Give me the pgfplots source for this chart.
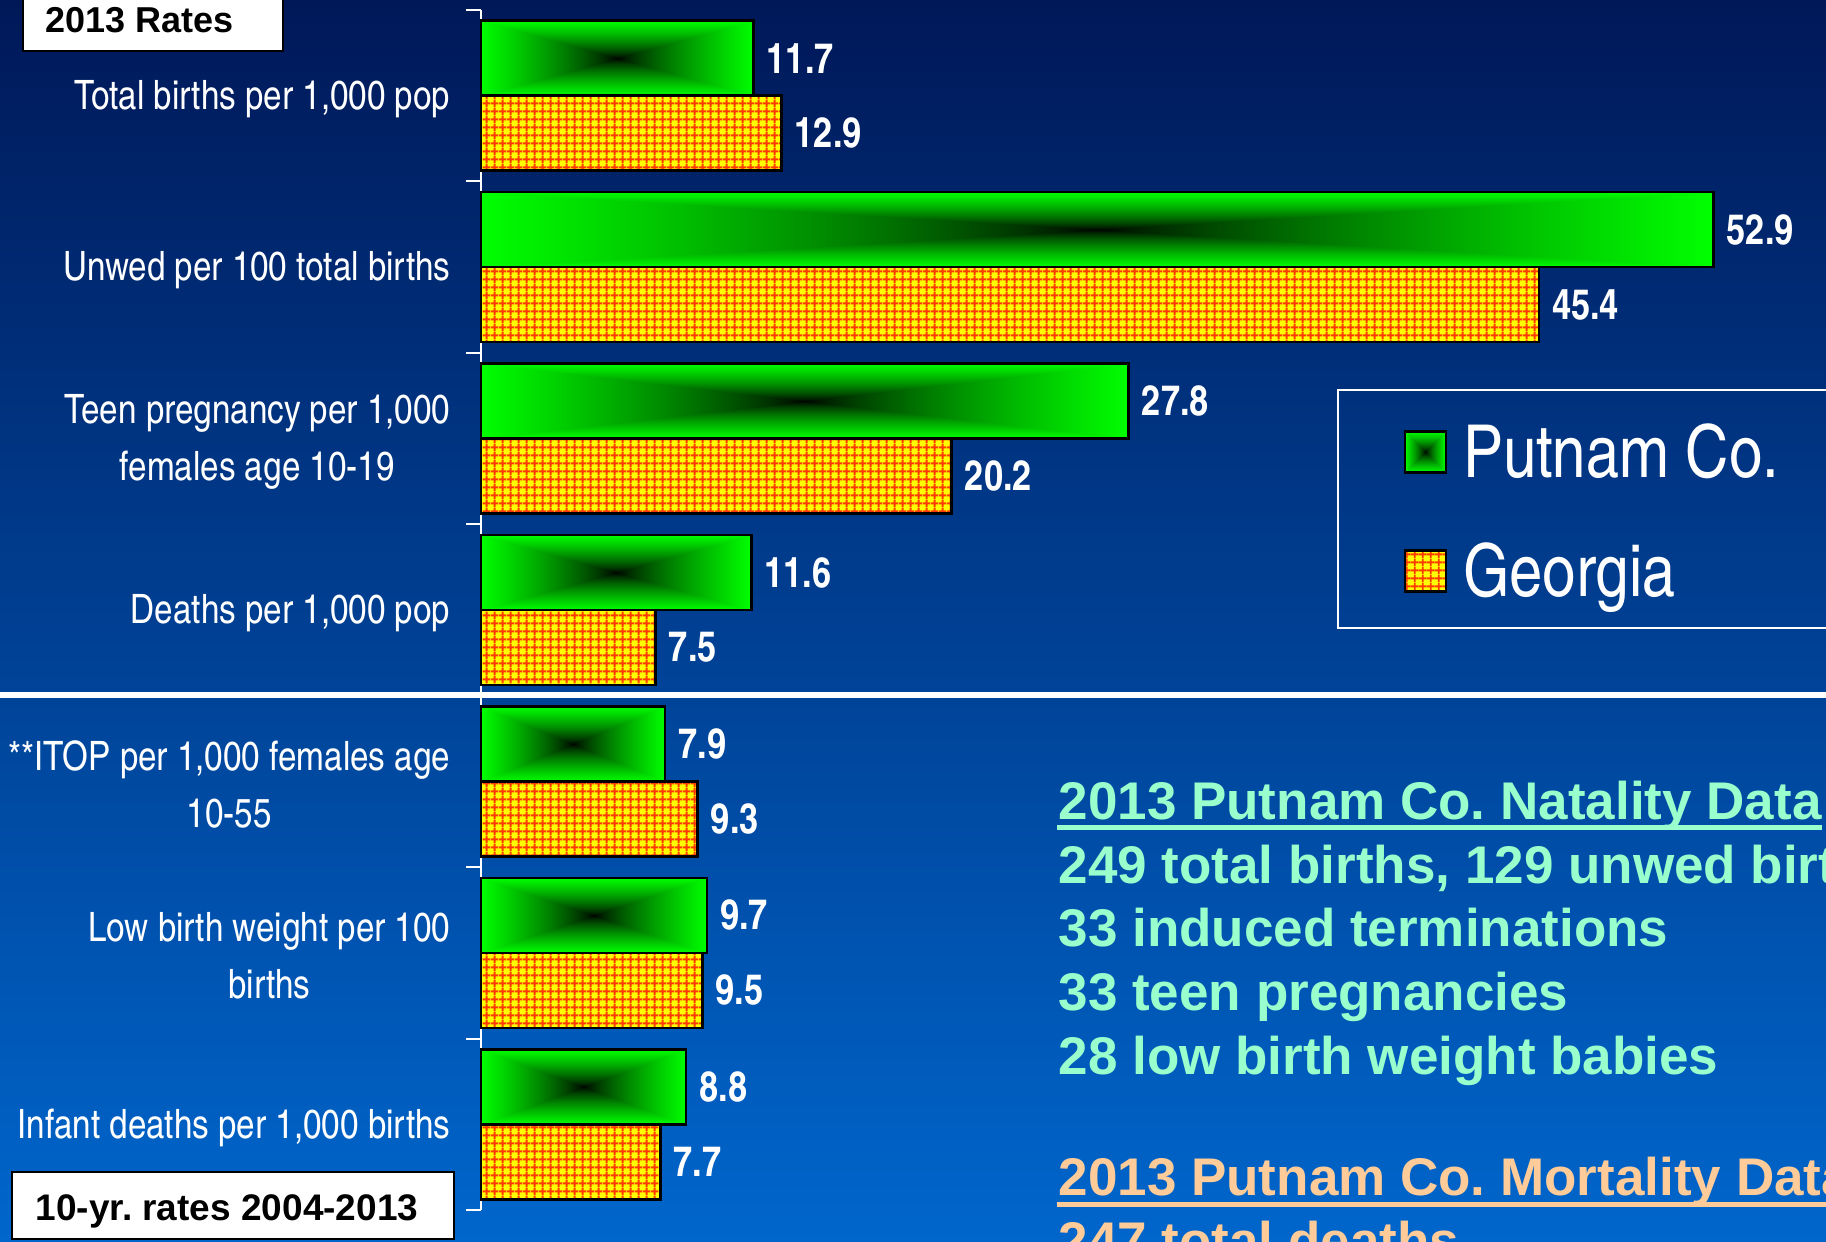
\documentclass[border=0pt]{standalone}
\usepackage{pgfplots}
\pgfplotsset{compat=1.18}
\usetikzlibrary{patterns}
\usepackage{fontspec}
\setmainfont{Liberation Sans}
\newfontfamily\cn{texgyreheroscn}[Extension=.otf, UprightFont=*-regular, BoldFont=*-bold]
\frenchspacing

\definecolor{bgtop}{RGB}{0,24,88}
\definecolor{bgmid}{RGB}{0,70,148}
\definecolor{bgbot}{RGB}{0,102,204}
\definecolor{gayellow}{RGB}{255,255,0}
\definecolor{gared}{RGB}{255,60,0}
\definecolor{mint}{RGB}{153,255,204}
\definecolor{peach}{RGB}{255,204,153}

% "from centre" box gradient: black in the middle, green at the edges
\pgfdeclarefunctionalshading{greenbox}{\pgfpointorigin}{\pgfpoint{100bp}{100bp}}{}{
  50 sub abs exch 50 sub abs 2 copy lt {exch} if pop
  25 div dup 1 gt {pop 1} if sqrt dup sqrt mul 0 exch 0
}
% fine square grid for the Georgia bars
\pgfdeclarepatternformonly{fgrid}{\pgfpointorigin}{\pgfpoint{2.3pt}{2.3pt}}{\pgfpoint{2.3pt}{2.3pt}}{
  \pgfsetlinewidth{0.6pt}
  \pgfpathmoveto{\pgfpoint{0pt}{1.15pt}}\pgfpathlineto{\pgfpoint{2.3pt}{1.15pt}}
  \pgfpathmoveto{\pgfpoint{1.15pt}{0pt}}\pgfpathlineto{\pgfpoint{1.15pt}{2.3pt}}
  \pgfusepath{stroke}
}

\pgfplotsset{
  barbase/.style={xbar, bar width=22.5pt, line width=0.75pt},
  putnam/.style={barbase, bar shift=11.25pt, draw=black, shade, shading=greenbox,
    nodes near coords, point meta=x,
    every node near coord/.append style={yshift=11.25pt},
    legend image code/.code={\draw[##1] (0pt,-5.75pt) rectangle (12.3pt,6.55pt);}},
  georgia/.style={barbase, bar shift=-11.25pt},
  georgia legend/.style={legend image code/.code={
    \fill[gayellow] (0pt,-5.75pt) rectangle (12.3pt,6.55pt);
    \draw[##1] (0pt,-5.75pt) rectangle (12.3pt,6.55pt);}},
}

\begin{document}
\begin{tikzpicture}
\path[use as bounding box] (0,0) rectangle (547.8pt,-372.3pt);
\clip (0,0) rectangle (547.8pt,-372.3pt);

% picture in pixel units of the reference, y downwards
\begin{scope}[x=0.3pt,y=-0.3pt]
  \shade[top color=bgtop, middle color=bgmid, bottom color=bgbot] (0,0) rectangle (1826,1241);
\end{scope}

\begin{axis}[
  at={(144.3pt,-363pt)}, anchor=south west,
  scale only axis, width=403.5pt, height=360pt,
  xmin=0, xmax=57.73, ymin=-0.5, ymax=6.5,
  axis x line=none, axis y line*=left,
  y axis line style={white, line width=0.6pt},
  ytick={0,...,6},
  yticklabels={{Infant deaths per 1,000 births},
               {Low birth weight per 100\\births},
               {**ITOP per 1,000 females age\\10-55},
               {Deaths per 1,000 pop},
               {Teen pregnancy per 1,000\\females age 10-19},
               {Unwed per 100 total births},
               {Total births per 1,000 pop}},
  major tick length=0pt,
  minor ytick={-0.5,0.5,...,6.5},
  minor tick length=4.5pt,
  tick align=outside,
  minor tick style={white, line width=0.6pt},
  yticklabel style={font=\cn\fontsize{12.15}{17.1}\selectfont, text=white,
    align=center, inner sep=0pt, xshift=-9pt, yshift=-1pt},
  clip=false,
  every node near coord/.append style={font=\cn\bfseries\fontsize{12.6}{15}\selectfont,
    text=white, anchor=west, inner xsep=3.6pt, inner ysep=0pt},
  /pgf/number format/fixed, /pgf/number format/fixed zerofill,
  /pgf/number format/precision=1, /pgf/number format/assume math mode=true,
  legend cell align=left,
  legend style={at={(axis cs:39.57,4.09)}, anchor=north west, draw=none, fill=none,
    text=white, font=\cn\fontsize{21.9}{26}\selectfont, inner sep=0pt,
    row sep=18.1pt, column sep=4.8pt, nodes={inner sep=0pt}},
]
% Putnam Co.: one plot per bar so that each bar gets its own gradient
\addplot[putnam] coordinates {(11.7,6)};
\addplot[putnam, forget plot] coordinates {(52.9,5)};
\addplot[putnam, forget plot] coordinates {(27.8,4)};
\addplot[putnam, forget plot] coordinates {(11.6,3)};
\addplot[putnam, forget plot] coordinates {(7.9,2)};
\addplot[putnam, forget plot] coordinates {(9.7,1)};
\addplot[putnam, forget plot] coordinates {(8.8,0)};
% Georgia: yellow ground, then red grid and outline
\addplot[georgia, fill=gayellow, draw=none, forget plot]
  coordinates {(7.7,0) (9.5,1) (9.3,2) (7.5,3) (20.2,4) (45.4,5) (12.9,6)};
\addplot[georgia, draw=black, pattern=fgrid, pattern color=gared,
  nodes near coords, point meta=x,
  every node near coord/.append style={yshift=-11.25pt}, georgia legend]
  coordinates {(7.7,0) (9.5,1) (9.3,2) (7.5,3) (20.2,4) (45.4,5) (12.9,6)};
\legend{Putnam Co., Georgia}
\end{axis}

\begin{scope}[x=0.3pt,y=-0.3pt]
  % line between the 2013 rates and the 10-year rates
  \draw[white, line width=1.8pt] (0,695) -- (1826,695);
  % legend frame
  \draw[white, line width=0.6pt] (1338,390) rectangle (1860,628);
  % section boxes
  \draw[black, fill=white, line width=0.7pt] (23,-20) rectangle (283,51);
  \node[anchor=base west, inner sep=0pt, font=\bfseries\fontsize{10.8}{13}\selectfont] at (45,32) {2013 Rates};
  \draw[black, fill=white, line width=0.7pt] (12,1172) rectangle (454,1239);
  \node[anchor=base west, inner sep=0pt, font=\bfseries\fontsize{11.1}{13}\selectfont] at (35,1220) {10-yr. rates 2004-2013};
  % counts on the right
  \begin{scope}[every node/.style={anchor=base west, inner sep=0pt, font=\bfseries\fontsize{15.9}{19}\selectfont}]
    \node[text=mint] (nt) at (1058,819) {2013 Putnam Co. Natality Data};
    \draw[mint, line width=1.5pt] (1057,827) -- (nt.base east |- 0,827);
    \node[text=mint] at (1058,883) {249 total births, 129 unwed births};
    \node[text=mint] at (1058,946) {33 induced terminations};
    \node[text=mint] at (1058,1010) {33 teen pregnancies};
    \node[text=mint] at (1058,1074) {28 low birth weight babies};
    \node[text=peach] (mt) at (1058,1195) {2013 Putnam Co. Mortality Data};
    \draw[peach, line width=1.5pt] (1057,1204) -- (mt.base east |- 0,1204);
    \node[text=peach] at (1058,1259) {247 total deaths};
  \end{scope}
\end{scope}
\end{tikzpicture}
\end{document}
